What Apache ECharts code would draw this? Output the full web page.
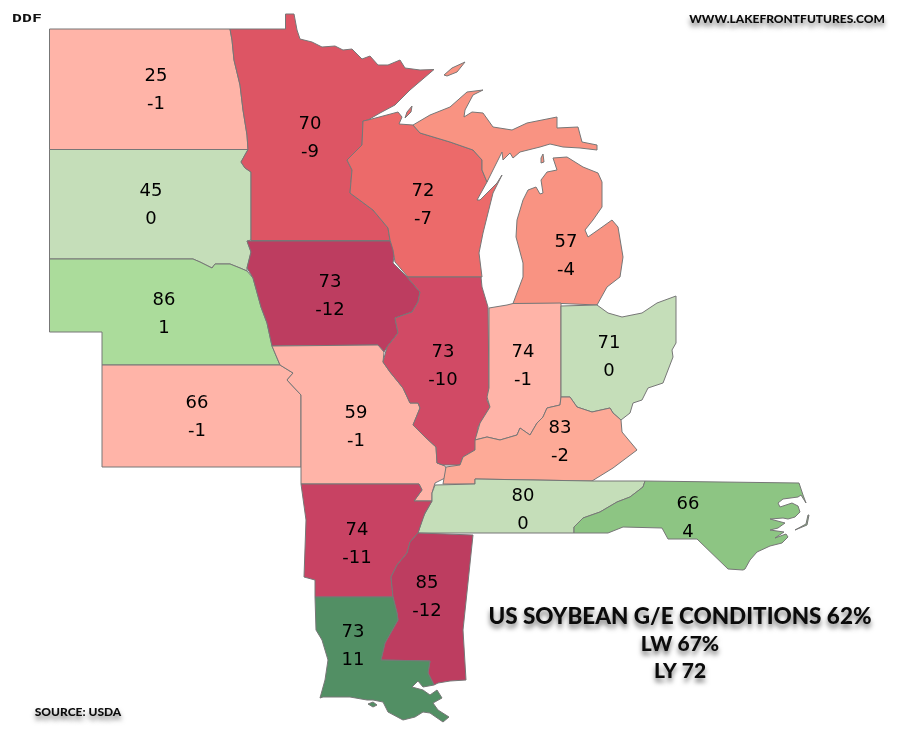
<!DOCTYPE html>
<html>
<head>
<meta charset="utf-8">
<title>US Soybean G/E Conditions</title>
<style>
	html, body { margin: 0; padding: 0; background: #fff; }
	#chart-map { width: 907px; height: 743px; }
</style>
<script src="https://cdn.jsdelivr.net/npm/echarts@6/dist/echarts.min.js"></script>
</head>
<body>
<div id="chart-map"></div>
<script>
//values
var states = ['North Dakota', 'South Dakota', 'Nebraska', 'Kansas', 'Minnesota', 'Iowa', 'Missouri', 'Wisconsin', 'Illinois', 'Michigan', 'Indiana', 'Ohio', 'Kentucky', 'Tennessee', 'North Carolina', 'Arkansas', 'Mississippi', 'Louisiana'];
var conditions = [25, 45, 86, 66, 70, 73, 59, 72, 73, 57, 74, 71, 83, 80, 66, 74, 85, 73];
var changes = [-1, 0, 1, -1, -9, -12, -1, -7, -10, -4, -1, 0, -2, 0, 4, -11, -12, 11];

//fill per week-on-week change
var changeColors = {
	'-12': '#bd3d60',
	'-11': '#c84263',
	'-10': '#d14a65',
	'-9': '#dd5564',
	'-7': '#ec6a6a',
	'-4': '#f99382',
	'-2': '#fdaa97',
	'-1': '#ffb4a8',
	'0': '#c5deb9',
	'1': '#abdc9b',
	'4': '#8dc583',
	'11': '#528f64'
};

//state outlines and label anchors, in screen-like map units (y grows downward)
var outlines = {
	'North Dakota': [[[49.5,29],[230,29],[232,40],[234,60],[240,85],[243,110],[247,135],[248,149.5],[49.5,149.5]]],
	'South Dakota': [[[49.5,149.5],[248,149.5],[241,162],[245,168],[251,172],[251,240],[247,241],[251,252],[247,268],[247,271],[240,268],[230,264],[215,264],[212,268],[200,262],[193,259],[49.5,259]]],
	'Nebraska': [[[49.5,259],[193,259],[200,262],[212,268],[215,264],[230,264],[240,268],[247,271],[253,278],[261,307],[267,323],[272,346],[280,365],[102,365],[102,332],[49.5,332]]],
	'Kansas': [[[102,365],[280,365],[293,373],[287,380],[301,395],[301,467],[102,467]]],
	'Minnesota': [[[230,29],[285.5,29],[285.5,14],[294,14],[297,30],[300,39],[312,42],[322,47],[335,46],[343,50],[352,49],[358,55],[362,59],[370,56],[378,65],[388,65],[400,60],[405,68],[420,70],[434,69.5],[410,90],[395,105],[380,113],[368,120],[363,121],[362,145],[347,160],[352,170],[350,193],[373,210],[388,228],[390,240.5],[251,240.5],[251,172],[245,168],[241,162],[248,149.5],[247,135],[243,110],[240,85],[234,60],[232,40]]],
	'Iowa': [[[247,241],[390,241],[395,250],[393,263],[407,277],[420,292],[418,302],[412,312],[395,318],[398,333],[387,347],[384,352],[378,345],[272,346],[267,323],[261,307],[253,278],[247,268],[251,252]]],
	'Missouri': [[[272,346],[378,345],[384,352],[383,362],[390,372],[403,388],[410,403],[418,403],[420,408],[413,425],[425,437],[436,447],[437,463],[445,466],[447,470],[445,478],[435,483],[432,493],[432,501],[414,501],[422,490],[419,484],[301,484],[301,395],[287,380],[293,373],[280,365]]],
	'Wisconsin': [[[363,121],[368,120],[398,112],[402,117],[399,124],[413,125],[420,133],[450,142],[473,150],[482,160],[482,170],[487,182],[477,200],[480,200],[497,183],[502,175],[493,193],[488,213],[483,233],[479,253],[482,277],[408,277],[395,262],[393,250],[390,240],[388,228],[373,210],[350,193],[352,170],[347,160],[362,145]], [[407,112],[412,106],[411,112],[405,118]]],
	'Illinois': [[[407,277],[481,277],[482,287],[488,307],[489,390],[487,400],[490,407],[478,427],[475,450],[463,457],[460,465],[443,465],[437,463],[436,447],[425,437],[413,425],[420,408],[418,403],[410,403],[403,388],[390,372],[383,362],[387,347],[398,333],[395,318],[412,312],[418,302],[420,292]]],
	'Michigan': [
		[[413,125],[430,115],[450,107],[467,92],[483,90],[473,95],[465,110],[464,117],[472,112],[483,113],[493,127],[512,130],[527,123],[557,117],[557,128],[578,127],[582,142],[597,145],[597,150],[580,148],[563,147],[550,144],[540,147],[520,152],[513,158],[510,153],[503,160],[502,152],[487,182],[482,170],[482,160],[473,150],[450,142],[420,133]],
		[[553,158],[567,157],[583,167],[598,173],[602,182],[602,207],[593,220],[585,230],[588,237],[598,230],[612,220],[618,227],[623,257],[620,277],[607,287],[597,305],[562,303.5],[513,303.5],[523,277],[523,263],[516,237],[517,220],[523,200],[528,190],[536,187],[540,194],[543,193],[541,180],[547,172],[557,170]],
		[[444,75],[452,68],[465,62],[457,72],[447,76]],
		[[541,158],[543,154],[544,162],[541,163]]
	],
	'Indiana': [[[489,308],[507,305],[513,303.5],[561,303],[561,397],[560,405],[547,408],[543,417],[537,423],[530,435],[520,428],[517,435],[500,440],[487,437],[475,440],[480,423],[490,407],[487,397],[489,388]]],
	'Ohio': [[[561,306],[597,305],[608,313],[622,317],[642,313],[657,303],[676,296],[676,343],[672,350],[673,357],[663,383],[648,388],[642,400],[633,403],[630,413],[621,420],[613,413],[610,408],[592,412],[577,407],[570,397],[561,397]]],
	'Kentucky': [[[561,397],[570,397],[577,407],[592,412],[610,408],[613,413],[621,420],[622,432],[637,450],[613,468],[592,481],[475,479],[475,484],[443,484],[446,467],[460,465],[463,457],[475,450],[475,440],[487,437],[500,440],[517,435],[520,428],[530,435],[537,423],[543,417],[547,408],[560,405]]],
	'Tennessee': [[[435,485],[475,484],[475,479],[592,481],[645,481],[643,487],[630,497],[617,502],[600,512],[583,518],[574,527],[574,533],[418,533],[423,517],[432,501],[432,493]]],
	'North Carolina': [
		[[645,481],[799,483],[803,495],[806,503],[801,495],[798,497],[783,499],[778,503],[780,507],[792,503],[798,506],[800,512],[795,517],[788,519],[783,518],[770,519],[785,523],[778,528],[770,530],[784,532],[775,538],[786,534],[788,537],[782,543],[770,546],[757,552],[750,560],[745,569],[743,570],[728,569],[697,539],[668,539],[662,528],[623,527],[608,533],[574,533],[574,527],[583,518],[600,512],[617,502],[630,497],[643,487]],
		[[809,515],[807,525],[795,530],[795,529],[806,524],[808,515]]
	],
	'Arkansas': [[[301,484],[419,484],[422,490],[414,501],[432,501],[425,513],[420,527],[418,533],[410,542],[407,553],[397,565],[391,577],[393,597],[315,597],[315,580],[304,577],[306,520]]],
	'Mississippi': [[[418,533],[473,535],[463,630],[466,680],[450,681],[438,683],[434,685],[428,673],[430,661],[381,660],[385,643],[398,620],[397,613],[393,597],[391,577],[397,565],[407,553],[410,542]]],
	'Louisiana': [
		[[315,597],[393,597],[397,613],[398,620],[385,643],[381,660],[430,661],[428,673],[434,685],[423,687],[418,681],[412,687],[423,690],[430,695],[437,690],[442,698],[433,703],[438,710],[449,717],[443,722],[430,713],[423,712],[415,717],[403,720],[388,712],[383,702],[373,700],[367,700],[350,697],[323,697],[320,698],[325,680],[328,660],[322,640],[316,630]],
		[[368,704],[373,702],[377,705],[373,707]]
	]
};
var labelAnchors = {
	'North Dakota': [156,90],
	'South Dakota': [151,205],
	'Nebraska': [164,314],
	'Kansas': [197,417],
	'Minnesota': [310,138],
	'Iowa': [330,296],
	'Missouri': [356,427],
	'Wisconsin': [423,205],
	'Illinois': [443,366],
	'Michigan': [566,256],
	'Indiana': [523,366],
	'Ohio': [609,357],
	'Kentucky': [560,442],
	'Tennessee': [523,510],
	'North Carolina': [688,518],
	'Arkansas': [357,544],
	'Mississippi': [427,597],
	'Louisiana': [353,646]
};

function _flip(p) {
	return [p[0], -p[1]];
}

function _buildGeoJson() {
	return {
		type: 'FeatureCollection',
		features: states.map(function(name) {
			return {
				type: 'Feature',
				properties: { name: name, cp: _flip(labelAnchors[name]) },
				geometry: {
					type: 'MultiPolygon',
					coordinates: outlines[name].map(function(ring) {
						return [ring.map(_flip)];
					})
				}
			};
		})
	};
}

function _shadowText(x, y, text, font, align) {
	return {
		type: 'text',
		x: x,
		y: y,
		style: {
			text: text,
			font: font,
			fill: '#0b0b0b',
			align: align,
			verticalAlign: 'middle',
			textShadowColor: 'rgba(0,0,0,0.55)',
			textShadowBlur: 5,
			textShadowOffsetY: 4
		}
	};
}

var chartMap = echarts.init(document.getElementById('chart-map'), null, { renderer: 'canvas' });
echarts.registerMap('midwest', _buildGeoJson());

chartMap.setOption({
	animation: false,
	backgroundColor: '#fff',
	series: [{
		type: 'map',
		map: 'midwest',
		aspectScale: 1,
		boundingCoords: [[0, 0], [907, -743]],
		left: 0,
		top: 0,
		width: 907,
		height: 743,
		roam: false,
		silent: true,
		itemStyle: {
			borderColor: '#777',
			borderWidth: 1
		},
		label: {
			show: true,
			color: '#000',
			fontFamily: 'DejaVu Sans',
			fontSize: 18,
			lineHeight: 28,
			formatter: function(p) {
				return p.data.value + '\n' + p.data.change;
			}
		},
		data: states.map(function(name, i) {
			return {
				name: name,
				value: conditions[i],
				change: changes[i],
				itemStyle: { areaColor: changeColors[changes[i]] }
			};
		})
	}],
	graphic: [
		_shadowText(680, 617, 'US SOYBEAN G/E CONDITIONS 62%', '900 22.5px Lato', 'center'),
		_shadowText(680, 644, 'LW 67%', '900 21px Lato', 'center'),
		_shadowText(680, 671, 'LY 72', '900 21px Lato', 'center'),
		_shadowText(787, 19, 'WWW.LAKEFRONTFUTURES.COM', '900 12px Lato', 'center'),
		_shadowText(78, 712, 'SOURCE: USDA', '900 12px Lato', 'center'),
		{
			type: 'text',
			x: 27,
			y: 19,
			scaleX: 1.5,
			style: {
				text: 'DDF',
				font: 'bold 11px "DejaVu Sans Mono"',
				fill: '#111',
				align: 'center',
				verticalAlign: 'middle'
			}
		}
	]
});
</script>
</body>
</html>
